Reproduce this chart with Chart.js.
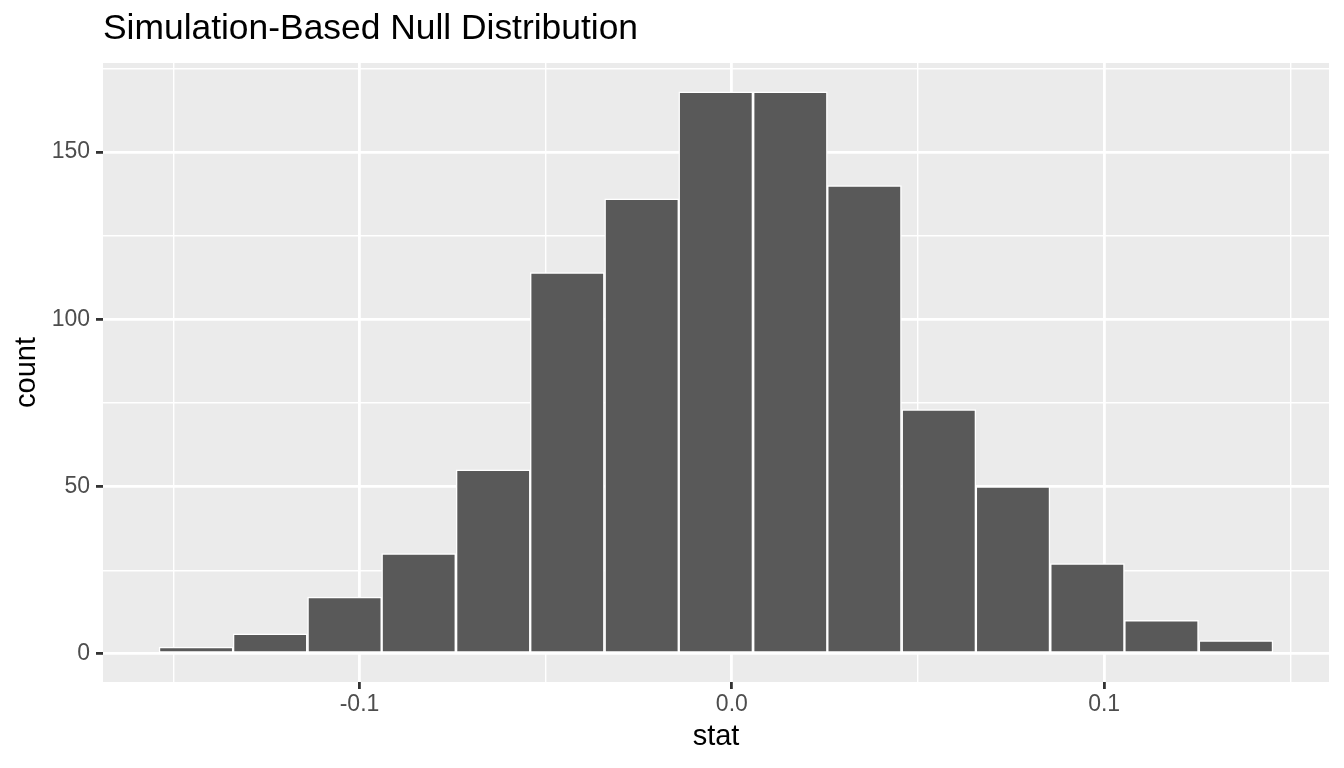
<!DOCTYPE html>
<html>
<head>
<meta charset="utf-8">
<title>Simulation-Based Null Distribution</title>
<script src="https://cdn.jsdelivr.net/npm/chart.js@4.4.1/dist/chart.umd.min.js"></script>
<style>
    body { margin: 0; background: #fff; }
    canvas { display: block; }
</style>
</head>
<body>
<canvas id="myChart" width="1344" height="768"></canvas>
<script>
const chartTitle = 'Simulation-Based Null Distribution';

// bin centres of the histogram (stat)
const binCenters = [-0.1439, -0.1240, -0.1040, -0.0841, -0.0641, -0.0442, -0.0242, -0.0043,
    0.0157, 0.0356, 0.0556, 0.0755, 0.0955, 0.1154, 0.1354];

// counts per bin
const counts = [2, 6, 17, 30, 55, 114, 136, 168, 168, 140, 73, 50, 27, 10, 4];

// tick labels that get printed
const xTickLabels = ['-0.1', '0.0', '0.1'];
const yTickLabels = ['0', '50', '100', '150'];

const fontFamily = '"Liberation Sans", Arial, Helvetica, sans-serif';

function isMajorX(v) {
    return Math.abs(Math.round(v * 20)) % 2 === 0;
}
function isMajorY(v) {
    return Math.round(v) % 50 === 0;
}
function xLabel(v) {
    const s = (Math.round(v * 10) / 10).toFixed(1);
    return xTickLabels.includes(s) && isMajorX(v) ? s : '';
}
function yLabel(v) {
    const s = String(Math.round(v));
    return yTickLabels.includes(s) && isMajorY(v) ? s : '';
}
// scriptable helpers, the context has no tick while options get resolved
function tickVal(c) {
    return c && c.tick ? c.tick.value : 0;
}

// grey panel behind the grid, like ggplot
const panelBg = {
    id: 'panelBg',
    beforeDraw(chart) {
        const { ctx, chartArea } = chart;
        ctx.save();
        ctx.fillStyle = '#EBEBEB';
        ctx.fillRect(chartArea.left, chartArea.top, chartArea.right - chartArea.left, chartArea.bottom - chartArea.top);
        ctx.restore();
    }
};

// title left aligned on the panel
const leftTitle = {
    id: 'leftTitle',
    afterDraw(chart) {
        const { ctx, chartArea } = chart;
        ctx.save();
        ctx.font = '35.4px ' + fontFamily;
        ctx.fillStyle = '#000000';
        ctx.textAlign = 'left';
        ctx.textBaseline = 'alphabetic';
        ctx.fillText(chartTitle, chartArea.left, 39);
        ctx.restore();
    }
};

const ctx = document.getElementById('myChart');
const myChart = new Chart(ctx, {
    type: 'bar',
    data: {
        datasets: [{
            label: 'count',
            data: binCenters.map((x, i) => ({ x: x, y: counts[i] })),
            backgroundColor: '#595959',
            borderColor: '#FFFFFF',
            borderWidth: 1.5,
            borderSkipped: false,
            barPercentage: 1,
            categoryPercentage: 1
        }]
    },
    plugins: [panelBg, leftTitle],
    options: {
        responsive: false,
        devicePixelRatio: 1,
        animation: false,
        layout: {
            padding: { top: 63, right: 15, left: 0, bottom: 0 }
        },
        plugins: {
            legend: { display: false },
            title: { display: false },
            tooltip: { enabled: false }
        },
        scales: {
            x: {
                type: 'linear',
                offset: false,
                min: -0.1689,
                max: 0.1604,
                afterFit(scale) { scale.height = 86; },
                border: { display: false },
                grid: {
                    offset: false,
                    color: '#FFFFFF',
                    lineWidth: (c) => isMajorX(tickVal(c)) ? 2.8 : 1.4,
                    drawTicks: true,
                    tickLength: 7,
                    tickColor: (c) => isMajorX(tickVal(c)) ? '#333333' : 'rgba(0,0,0,0)',
                    tickWidth: 2.8
                },
                ticks: {
                    stepSize: 0.05,
                    includeBounds: false,
                    autoSkip: false,
                    maxRotation: 0,
                    padding: 2,
                    color: '#4D4D4D',
                    font: { family: fontFamily, size: 23 },
                    callback: (v) => xLabel(v)
                },
                title: {
                    display: true,
                    text: 'stat',
                    color: '#000000',
                    font: { family: fontFamily, size: 29 },
                    padding: { top: 0, bottom: 14 }
                }
            },
            y: {
                type: 'linear',
                min: -8.4,
                max: 176.6,
                afterFit(scale) { scale.width = 103; },
                border: { display: false },
                grid: {
                    color: '#FFFFFF',
                    lineWidth: (c) => isMajorY(tickVal(c)) ? 2.8 : 1.4,
                    drawTicks: true,
                    tickLength: 7,
                    tickColor: (c) => isMajorY(tickVal(c)) ? '#333333' : 'rgba(0,0,0,0)',
                    tickWidth: 2.8
                },
                ticks: {
                    stepSize: 25,
                    includeBounds: false,
                    autoSkip: false,
                    padding: 6,
                    color: '#4D4D4D',
                    font: { family: fontFamily, size: 23 },
                    callback: (v) => yLabel(v)
                },
                title: {
                    display: true,
                    text: 'count',
                    color: '#000000',
                    font: { family: fontFamily, size: 29 },
                    padding: { top: 10, bottom: 0 }
                }
            }
        }
    }
});
</script>
</body>
</html>
